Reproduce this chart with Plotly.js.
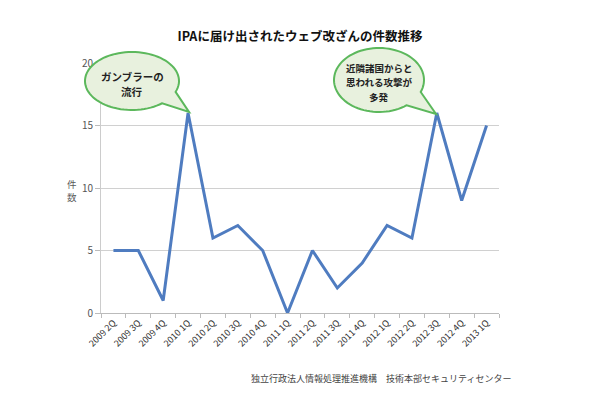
<!DOCTYPE html>
<html><head><meta charset="utf-8">
<script src="https://cdn.plot.ly/plotly-3.0.1.min.js"></script>
<style>body{margin:0;background:#fff}#c{width:610px;height:400px}</style>
</head><body><div id="c"></div>
<script>
const categories = ["2009 2Q","2009 3Q","2009 4Q","2010 1Q","2010 2Q","2010 3Q","2010 4Q","2011 1Q","2011 2Q","2011 3Q","2011 4Q","2012 1Q","2012 2Q","2012 3Q","2012 4Q","2013 1Q"];
const counts = [5,5,1,16,6,7,5,0,5,2,4,7,6,16,9,15];
const titleText = "IPAに届け出されたウェブ改ざんの件数推移";
const yTitleLines = ["件","数"];
const source = "独立行政法人情報処理推進機構　技術本部セキュリティセンター";
const bubble1Lines = ["ガンブラーの","流行"];
const bubble2Lines = ["近隣諸国からと","思われる攻撃が","多発"];

const W=610,H=400,L=101,R=111,T=63,B=87;
const pw=W-L-R, ph=H-T-B;
const px=x=>(x-L)/pw, py=y=>(H-B-y)/ph;
function bubblePath(cx,cy,rx,ry,a1,a2,tx,ty){
  let pts=[];
  const n=80;
  for(let i=0;i<=n;i++){
    const a=(a2+(360-(a2-a1))*i/n)*Math.PI/180;
    pts.push([cx+rx*Math.cos(a), cy+ry*Math.sin(a)]);
  }
  pts.push([tx,ty]);
  return 'M'+pts.map(p=>px(p[0]).toFixed(4)+','+py(p[1]).toFixed(4)).join(' L')+' Z';
}
const font="'Noto Sans CJK JP', 'Noto Sans', sans-serif";
const shapes=[
  {type:'path',xref:'paper',yref:'paper',path:bubblePath(132,81,47,29,22,50,189,112),fillcolor:'#e8f1de',line:{color:'#5cb85c',width:2}},
  {type:'path',xref:'paper',yref:'paper',path:bubblePath(379,80,45,32,22,52,436,114),fillcolor:'#e8f1de',line:{color:'#5cb85c',width:2}}
];
const ann=(x,y,text,size,color,bold)=>({xref:'paper',yref:'paper',x:px(x),y:py(y),xanchor:'center',yanchor:'middle',text:bold?'<b>'+text+'</b>':text,showarrow:false,font:{family:font,size:size,color:color},align:'center'});
const annotations=[];
bubble1Lines.forEach((t,i)=>annotations.push(ann(132,76+i*15,t,10.5,'#222',true)));
bubble2Lines.forEach((t,i)=>annotations.push(ann(379,68+i*14.5,t,9.5,'#222',true)));
yTitleLines.forEach((t,i)=>annotations.push(ann(72,184+i*13,t,9.5,'#595959',false)));
annotations.push(ann(381,378,source,9,'#444',false));
Plotly.newPlot('c',[{
  x:categories,y:counts,type:'scatter',mode:'lines',line:{color:'#4f7cc0',width:3}
}],{
  width:W,height:H,margin:{l:L,r:R,t:T,b:B},
  paper_bgcolor:'#fff',plot_bgcolor:'#fff',showlegend:false,
  title:{text:'<b>'+titleText+'</b>',x:0.5,xref:'paper',y:1-37/H,yanchor:'middle',font:{family:font,size:12.5,color:'#111'}},
  xaxis:{type:'category',tickangle:-45,tickson:'boundaries',ticks:'outside',ticklen:4,tickcolor:'#bbb',showline:true,linecolor:'#bbb',showgrid:false,tickfont:{family:font,size:9,color:'#333'},range:[-0.5,15.5]},
  yaxis:{range:[0,20],dtick:5,ticks:'outside',ticklen:5,tickcolor:'#bbb',showline:true,linecolor:'#ccc',gridcolor:'#d0d0d0',zeroline:false,tickfont:{family:font,size:10,color:'#555'}},
  shapes:shapes,annotations:annotations
},{displayModeBar:false});
</script></body></html>
